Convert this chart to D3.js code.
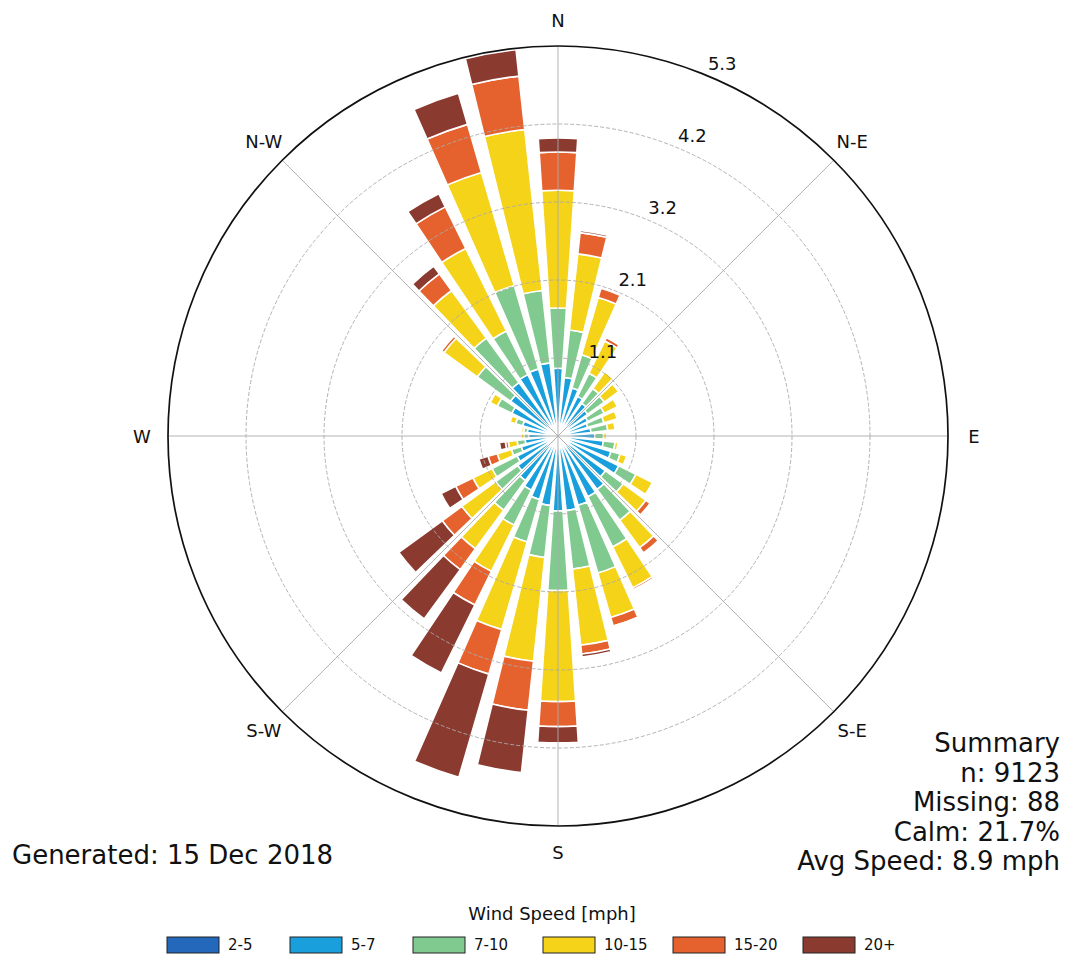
<!DOCTYPE html>
<html>
<head>
<meta charset="utf-8">
<script src="https://cdn.jsdelivr.net/npm/d3@7"></script>
<style>
  body { margin: 0; background: #fff; }
  text { font-family: "DejaVu Sans", sans-serif; fill: #111; }
</style>
</head>
<body>
<svg id="chart"></svg>
<script>
// Wind rose, frequency (%) per 10 degree direction bin and speed class
const directions = [0, 10, 20, 30, 40, 50, 60, 70, 80, 90, 100, 110, 120, 130, 140, 150, 160, 170,
                    180, 190, 200, 210, 220, 230, 240, 250, 260, 270, 280, 290, 300, 310, 320, 330, 340, 350];
const speedBins = ["2-5", "5-7", "7-10", "10-15", "15-20", "20+"];
const binColors = ["#2368bb", "#19a0dc", "#80ca90", "#f4d318", "#e5622e", "#8b3a30"];

const v2_5   = [0.14, 0.13, 0.12, 0.12, 0.11, 0.11, 0.10, 0.10, 0.10, 0.11, 0.12, 0.13, 0.14, 0.14, 0.15, 0.15, 0.15, 0.15,
                0.15, 0.15, 0.14, 0.14, 0.13, 0.13, 0.12, 0.11, 0.10, 0.10, 0.10, 0.11, 0.12, 0.13, 0.14, 0.14, 0.14, 0.14];
const v5_7   = [0.78, 0.67, 0.56, 0.48, 0.44, 0.39, 0.35, 0.32, 0.35, 0.39, 0.50, 0.62, 0.78, 0.66, 0.75, 0.77, 0.83, 0.87,
                0.87, 0.80, 0.76, 0.68, 0.62, 0.55, 0.50, 0.41, 0.35, 0.30, 0.32, 0.39, 0.58, 0.67, 0.76, 0.79, 0.81, 0.86];
const v7_10  = [0.82, 0.65, 0.47, 0.35, 0.25, 0.28, 0.25, 0.23, 0.23, 0.12, 0.16, 0.13, 0.26, 0.30, 0.52, 0.76, 0.96, 0.80,
                1.08, 0.71, 0.60, 0.53, 0.50, 0.37, 0.38, 0.14, 0.11, 0.06, 0.05, 0.10, 0.22, 0.56, 0.75, 0.66, 1.18, 0.99];
const v10_15 = [1.60, 1.04, 0.81, 0.49, 0.28, 0.24, 0.20, 0.19, 0.10, 0.04, 0.04, 0.09, 0.25, 0.38, 0.46, 0.62, 0.63, 1.04,
                1.51, 1.42, 1.24, 0.70, 0.65, 0.57, 0.29, 0.20, 0.12, 0.04, 0.03, 0.08, 0.11, 0.56, 0.80, 1.25, 1.60, 2.20];
const v15_20 = [0.52, 0.29, 0.13, 0.05, 0.00, 0.00, 0.00, 0.02, 0.00, 0.00, 0.00, 0.00, 0.00, 0.07, 0.09, 0.03, 0.12, 0.12,
                0.34, 0.67, 0.63, 0.51, 0.35, 0.33, 0.26, 0.13, 0.04, 0.00, 0.00, 0.01, 0.02, 0.04, 0.28, 0.63, 0.68, 0.73];
const v20    = [0.19, 0.03, 0.00, 0.01, 0.00, 0.00, 0.00, 0.00, 0.00, 0.00, 0.00, 0.00, 0.00, 0.00, 0.00, 0.02, 0.01, 0.04,
                0.22, 0.85, 1.46, 1.03, 0.83, 0.73, 0.22, 0.13, 0.08, 0.00, 0.00, 0.00, 0.00, 0.00, 0.13, 0.20, 0.44, 0.36];

const ringTicks = [1.06, 2.12, 3.18, 4.24, 5.3];
const compass = ["N", "N-E", "E", "S-E", "S", "S-W", "W", "N-W"];
const summaryLines = ["Summary", "n: 9123", "Missing: 88", "Calm: 21.7%", "Avg Speed: 8.9 mph"];
const generatedText = "Generated: 15 Dec 2018";
const legendTitle = "Wind Speed [mph]";

// layout
const width = 1069, height = 963;
const cx = 558, cy = 436, outerR = 390;
const barHalf = 3.8; // degrees
const rad = d => d * Math.PI / 180;

const svg = d3.select("#chart")
    .attr("width", width)
    .attr("height", height);
svg.append("rect").attr("width", width).attr("height", height).attr("fill", "#fff");

const r = d3.scaleLinear().domain([0, 5.3]).range([0, outerR]);

const rows = directions.map((dir, i) => ({
    dir: dir,
    "2-5": v2_5[i], "5-7": v5_7[i], "7-10": v7_10[i],
    "10-15": v10_15[i], "15-20": v15_20[i], "20+": v20[i]
}));
const series = d3.stack().keys(speedBins)(rows);

const g = svg.append("g").attr("transform", `translate(${cx},${cy})`);

const arc = d3.arc()
    .innerRadius(d => r(d[0]))
    .outerRadius(d => r(d[1]))
    .startAngle(d => rad(d.data.dir - barHalf))
    .endAngle(d => rad(d.data.dir + barHalf));

// bars
g.selectAll("g.layer")
    .data(series)
    .enter()
    .append("g")
    .attr("class", "layer")
    .attr("fill", (d, i) => binColors[i])
    .selectAll("path")
    .data(d => d.filter(s => s[1] - s[0] > 0))
    .enter()
    .append("path")
    .attr("d", arc)
    .attr("stroke", "#fff")
    .attr("stroke-width", 1.6);

// grid rings and spokes (drawn over bars like the original)
g.selectAll("circle.ring")
    .data(ringTicks.slice(0, -1))
    .enter()
    .append("circle")
    .attr("r", d => r(d))
    .attr("fill", "none")
    .attr("stroke", "#aaa")
    .attr("stroke-width", 0.9)
    .attr("stroke-dasharray", "4,2");

g.selectAll("line.spoke")
    .data(d3.range(0, 360, 45))
    .enter()
    .append("line")
    .attr("x1", 0).attr("y1", 0)
    .attr("x2", d => outerR * Math.sin(rad(d)))
    .attr("y2", d => -outerR * Math.cos(rad(d)))
    .attr("stroke", "#aaa")
    .attr("stroke-width", 0.9);

g.append("circle")
    .attr("r", outerR)
    .attr("fill", "none")
    .attr("stroke", "#111")
    .attr("stroke-width", 1.7);

// compass labels
g.selectAll("text.dir")
    .data(compass)
    .enter()
    .append("text")
    .attr("x", (d, i) => 416 * Math.sin(rad(i * 45)))
    .attr("y", (d, i) => -416 * Math.cos(rad(i * 45)))
    .attr("text-anchor", "middle")
    .attr("dominant-baseline", "central")
    .style("font-size", "18px")
    .text(d => d);

// ring labels along 22.5 degrees
const fmt = d3.format(".1f");
g.selectAll("text.rlab")
    .data(ringTicks)
    .enter()
    .append("text")
    .attr("x", d => r(d) * Math.sin(rad(22.5)) + 15)
    .attr("y", d => -r(d) * Math.cos(rad(22.5)) - 12)
    .attr("text-anchor", "middle")
    .attr("dominant-baseline", "central")
    .style("font-size", "18px")
    .text(d => fmt(d));

// summary block
svg.selectAll("text.sum")
    .data(summaryLines)
    .enter()
    .append("text")
    .attr("x", 1060)
    .attr("y", (d, i) => 743 + i * 29.5)
    .attr("text-anchor", "end")
    .attr("dominant-baseline", "central")
    .style("font-size", "26px")
    .text(d => d);

svg.append("text")
    .attr("x", 12)
    .attr("y", 855)
    .attr("dominant-baseline", "central")
    .style("font-size", "26px")
    .text(generatedText);

// legend
svg.append("text")
    .attr("x", 552)
    .attr("y", 913)
    .attr("text-anchor", "middle")
    .attr("dominant-baseline", "central")
    .style("font-size", "18px")
    .text(legendTitle);

const legendX = [167, 290, 413, 543, 673, 803];
const items = svg.selectAll("g.leg")
    .data(speedBins)
    .enter()
    .append("g")
    .attr("transform", (d, i) => `translate(${legendX[i]},937)`);

items.append("rect")
    .attr("width", 52)
    .attr("height", 16)
    .attr("fill", (d, i) => binColors[i])
    .attr("stroke", "#222")
    .attr("stroke-width", 1);

items.append("text")
    .attr("x", 61)
    .attr("y", 8)
    .attr("dominant-baseline", "central")
    .style("font-size", "15px")
    .text(d => d);
</script>
</body>
</html>
